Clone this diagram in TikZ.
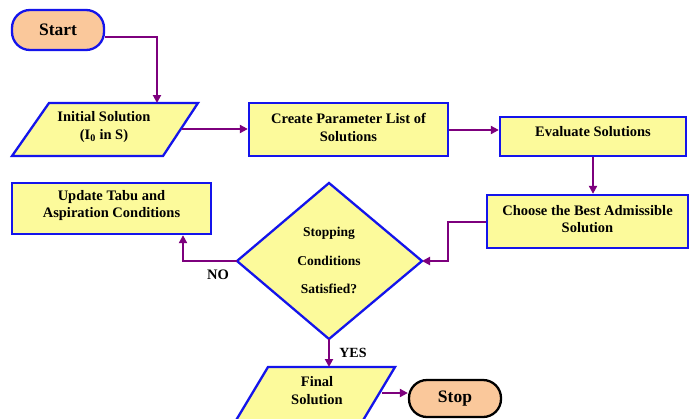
\documentclass[tikz,border=0pt]{standalone}
\usepackage{fontspec}
\setmainfont{Liberation Serif}
\usetikzlibrary{arrows.meta}
\definecolor{boxfill}{RGB}{252,250,155}
\definecolor{peach}{RGB}{250,200,155}
\definecolor{edgeblue}{RGB}{20,20,235}
\definecolor{arrowpurple}{RGB}{125,0,125}
\tikzset{
  box/.style={draw=edgeblue, line width=2.3pt, fill=boxfill, rectangle, inner sep=0pt, align=center, font=\bfseries\fontsize{14.5}{17}\selectfont},
  term/.style={draw=edgeblue, line width=2.3pt, fill=peach, rectangle, rounded corners=18pt, inner sep=0pt, font=\bfseries\fontsize{17.5}{20}\selectfont},
  shapeline/.style={draw=edgeblue, line width=2.3pt, fill=boxfill, line join=miter},
  txt/.style={inner sep=0pt, align=center, font=\bfseries\fontsize{14.5}{17}\selectfont},
  conn/.style={draw=arrowpurple, line width=2.8pt, -{Triangle[length=8pt,width=8pt]}},
}
\begin{document}
\begin{tikzpicture}[x=1pt,y=-1pt]
\useasboundingbox (0,0) rectangle (690,418);
\clip (0,0) rectangle (690,418);
\fill[white] (0,0) rectangle (690,418);

% Start
\node[term, minimum width=92pt, minimum height=40pt] (start) at (58,30) {Start};

% Initial solution parallelogram
\path[shapeline] (49,103) -- (198,103) -- (163,156) -- (12,156) -- cycle;
\node[txt, font=\bfseries\fontsize{14.5}{18}\selectfont] (init) at (104,127) {Initial Solution\\(I$_\mathbf{0}$ in S)};
\coordinate (initR) at (182,129);
\coordinate (initT) at (157,103);

% Create parameter list
\node[box, minimum width=199pt, minimum height=53pt] (create) at (348.5,129.5) {};
\node[txt, font=\bfseries\fontsize{14.5}{18}\selectfont] at (348.5,127) {Create Parameter List of\\Solutions};

% Evaluate
\node[box, minimum width=186pt, minimum height=39pt] (eval) at (593,136.5) {};
\node[txt] at (593,132) {Evaluate Solutions};

% Choose best
\node[box, minimum width=201pt, minimum height=53pt] (choose) at (587.5,221.5) {};
\node[txt, font=\bfseries\fontsize{14.5}{16.5}\selectfont] at (587.5,219) {Choose the Best Admissible\\Solution};

% Update tabu
\node[box, minimum width=199pt, minimum height=51pt] (update) at (111.5,208.5) {};
\node[txt, font=\bfseries\fontsize{14.5}{17}\selectfont] at (111.5,205.5) {Update Tabu and\\Aspiration Conditions};

% Diamond
\path[shapeline] (329,183) -- (422,261) -- (329,339) -- (237,261) -- cycle;
\coordinate (dT) at (329,183);
\coordinate (dR) at (422,261);
\coordinate (dB) at (329,339);
\coordinate (dL) at (237,261);
\node[txt, font=\bfseries\fontsize{13.5}{16}\selectfont] (stop1) at (329,233) {Stopping};
\node[txt, font=\bfseries\fontsize{13.5}{16}\selectfont] (stop2) at (329,261) {Conditions};
\node[txt, font=\bfseries\fontsize{13.5}{16}\selectfont] (stop3) at (329,289) {Satisfied?};

% Final solution parallelogram
\path[shapeline] (268,367) -- (395,367) -- (362,422) -- (235,422) -- cycle;
\coordinate (finT) at (329,367);
\coordinate (finR) at (382,393);
\node[txt, font=\bfseries\fontsize{14.5}{17.5}\selectfont] (final) at (317,390.5) {Final\\Solution};

% Stop
\node[term, draw=black, minimum width=92pt, minimum height=37pt] (stop) at (455,398.5) {Stop};

% Labels
\node[txt] (no) at (218,275) {NO};
\node[txt, font=\bfseries\fontsize{14}{16}\selectfont] (yes) at (353,353) {YES};

% Connectors
\draw[conn] ([yshift=-7pt]start.east) -| (initT);
\draw[conn] (initR) -- (initR -| create.west);
\draw[conn] (create.east |- 0,130) -- (eval.west |- 0,130);
\draw[conn] (eval.south) -- (eval.south |- choose.north);
\draw[conn] (choose.west |- 0,222) -- (448,222) |- (dR);
\draw[conn] (dL) -| (update.south -| 183,0);
\draw[conn] (dB) -- (finT);
\draw[conn] (finR) -- (stop.west |- finR);
\end{tikzpicture}
\end{document}
